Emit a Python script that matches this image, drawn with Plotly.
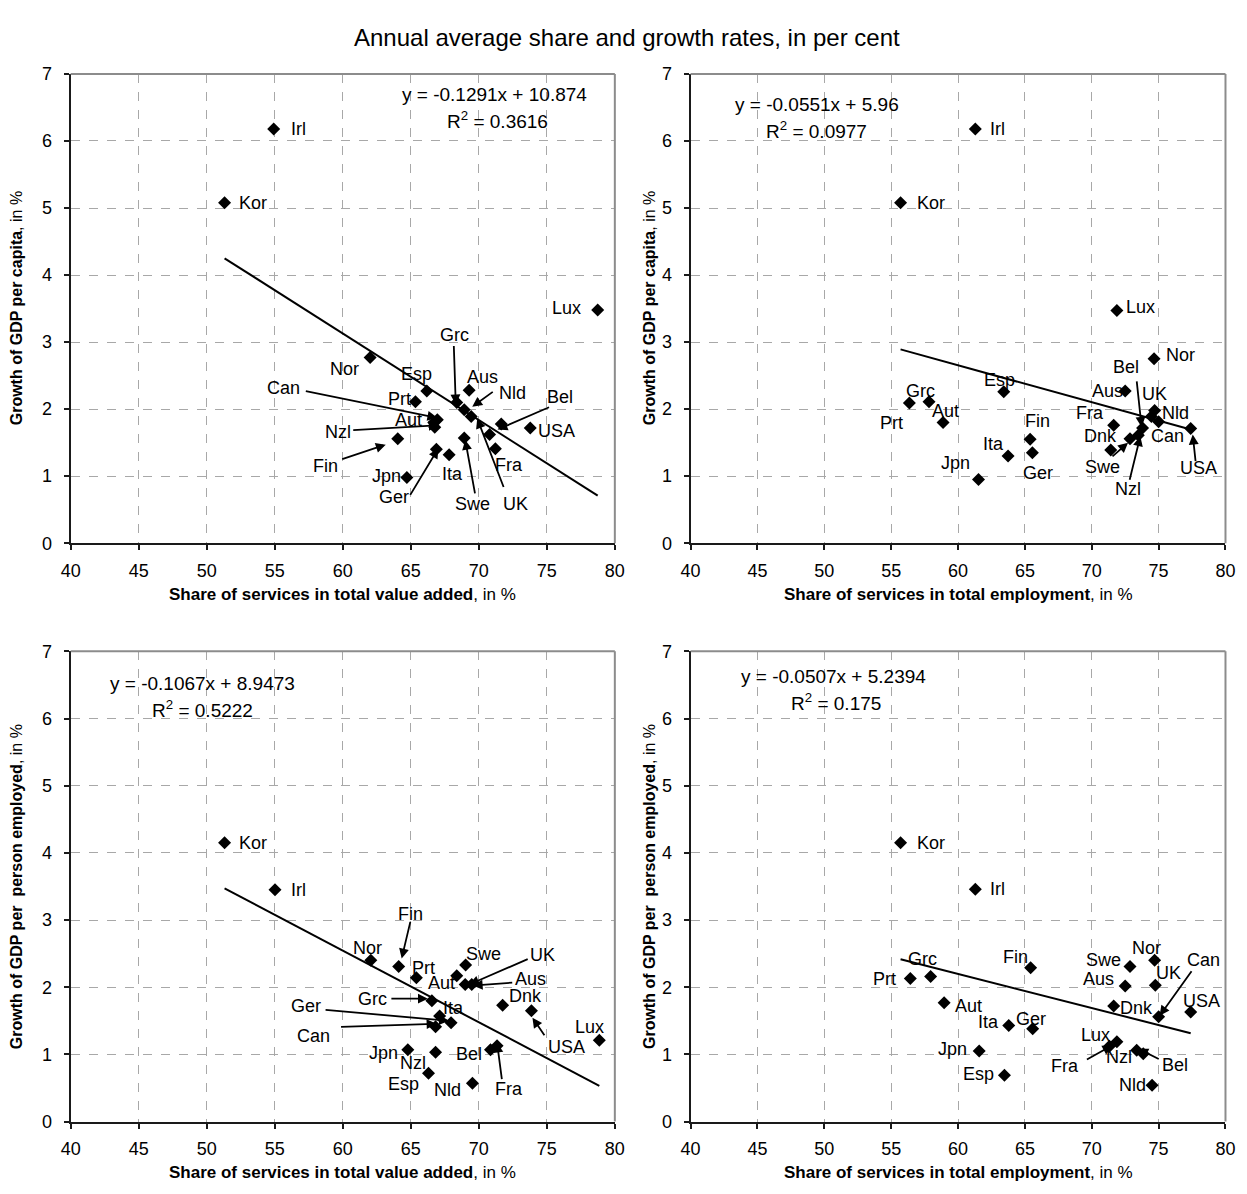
import plotly.graph_objects as go

FONT = "Liberation Sans, Arial, Helvetica, sans-serif"
W, H = 1247, 1194

# ---------------------------------------------------------------------------
# Panel 1: share of services in total value added vs growth of GDP per capita
va_pc_country = ["Irl", "Kor", "Lux", "Nor", "Esp", "Prt", "Aus", "Grc", "Nld", "UK", "Dnk",
                 "Bel", "USA", "Fra", "Can", "Aut", "Nzl", "Fin", "Jpn", "Ger", "Ita", "Swe"]
va_pc_share = [54.92, 51.31, 78.74, 62.01, 66.18, 65.34, 69.29, 68.38, 68.93, 69.44, 71.65,
               70.79, 73.78, 71.22, 66.95, 66.69, 66.76, 64.04, 64.71, 66.88, 67.82, 68.93]
va_pc_growth = [6.18, 5.08, 3.48, 2.77, 2.27, 2.11, 2.28, 2.10, 1.99, 1.89, 1.78,
                1.62, 1.72, 1.41, 1.84, 1.80, 1.73, 1.56, 0.98, 1.40, 1.32, 1.57]
va_pc_fit = (-0.1291, 10.874, 0.3616)

# Panel 2: share of services in total employment vs growth of GDP per capita
emp_pc_country = ["Irl", "Kor", "Lux", "Nor", "Esp", "Grc", "Prt", "Aut", "Aus", "Nld", "UK",
                  "Can", "Bel", "USA", "Fra", "Swe", "Dnk", "Nzl", "Fin", "Ger", "Ita", "Jpn"]
emp_pc_share = [61.29, 55.70, 71.88, 74.66, 63.42, 57.83, 56.36, 58.88, 72.50, 74.70, 74.46,
                75.00, 73.80, 77.40, 71.64, 72.86, 71.42, 73.48, 65.39, 65.56, 63.74, 61.53]
emp_pc_growth = [6.18, 5.08, 3.47, 2.75, 2.26, 2.11, 2.09, 1.80, 2.27, 1.98, 1.89,
                 1.81, 1.72, 1.71, 1.76, 1.56, 1.39, 1.61, 1.55, 1.35, 1.30, 0.95]
emp_pc_fit = (-0.0551, 5.96, 0.0977)

# Panel 3: share of services in total value added vs growth of GDP per person employed
va_pe_country = ["Irl", "Kor", "Nor", "Fin", "Prt", "Swe", "Aut", "UK", "Aus", "Dnk", "USA",
                 "Lux", "Grc", "Ita", "Ger", "Can", "Jpn", "Nzl", "Esp", "Nld", "Bel", "Fra"]
va_pe_share = [55.02, 51.31, 62.06, 64.11, 65.41, 69.03, 68.38, 69.00, 69.48, 71.75, 73.87,
               78.86, 66.55, 67.12, 67.96, 66.82, 64.78, 66.82, 66.30, 69.53, 70.86, 71.34]
va_pe_growth = [3.45, 4.15, 2.40, 2.31, 2.14, 2.33, 2.17, 2.04, 2.04, 1.73, 1.65,
                1.21, 1.80, 1.57, 1.47, 1.41, 1.07, 1.03, 0.72, 0.57, 1.07, 1.13]
va_pe_fit = (-0.1067, 8.9473, 0.5222)

# Panel 4: share of services in total employment vs growth of GDP per person employed
emp_pe_country = ["Kor", "Irl", "Grc", "Prt", "Fin", "Swe", "Nor", "Aus", "UK", "Aut", "Dnk",
                  "USA", "Can", "Ita", "Ger", "Lux", "Fra", "Nzl", "Bel", "Jpn", "Esp", "Nld"]
emp_pe_share = [55.70, 61.29, 57.95, 56.43, 65.43, 72.86, 74.70, 72.50, 74.75, 58.96, 71.64,
                77.40, 75.00, 63.79, 65.58, 71.88, 71.32, 73.36, 73.85, 61.58, 63.47, 74.51]
emp_pe_growth = [4.15, 3.46, 2.16, 2.13, 2.29, 2.31, 2.40, 2.02, 2.03, 1.77, 1.72,
                 1.63, 1.56, 1.43, 1.38, 1.19, 1.12, 1.06, 1.01, 1.05, 0.69, 0.54]
emp_pe_fit = (-0.0507, 5.2394, 0.175)

x_ticks = [40, 45, 50, 55, 60, 65, 70, 75, 80]
y_ticks = [0, 1, 2, 3, 4, 5, 6, 7]

# ---------------------------------------------------------------------------
# Label placement: pixel offsets (right, down) of each label from its marker
va_pc_labels = {"Irl": (25, 0), "Kor": (28, 0), "Lux": (-31, -2), "Nor": (-26, 11),
                "Esp": (-10, -17), "Prt": (-16, -3), "Aus": (13, -13), "Grc": (-2, -67),
                "Nld": (48, -17), "UK": (44, 87), "Bel": (70, -38), "USA": (26, 3),
                "Fra": (14, 16), "Can": (-154, -32), "Aut": (-25, -3), "Nzl": (-97, 5),
                "Fin": (-72, 27), "Jpn": (-20, -2), "Ger": (-42, 48), "Ita": (3, 19),
                "Swe": (8, 66)}
# Leader arrows: (tail dx, tail dy, head dx, head dy) in pixels from the marker
va_pc_arrows = {"Can": (-133, -29, 0, -2), "Grc": (-3, -58, -1, 2), "Nld": (30, -19, 8, -3),
                "Bel": (61, -28, 8, -5), "Nzl": (-83, 3, 4, -2), "Fin": (-57, 21, -12, 6),
                "Ger": (-27, 47, 2, -1), "Swe": (11, 57, 1, 2), "UK": (33, 72, 6, 2)}

emp_pc_labels = {"Irl": (22, 0), "Kor": (30, 0), "Lux": (24, -4), "Nor": (26, -4),
                 "Bel": (-17, -61), "Esp": (-4, -12), "Grc": (-9, -11), "Prt": (-18, 20),
                 "Aut": (2, -12), "Aus": (-18, 0), "UK": (3, -23), "Nld": (21, 3),
                 "Fra": (-24, -12), "Fin": (7, -18), "Dnk": (-10, -14), "Can": (9, 14),
                 "Ita": (-15, -12), "Swe": (-28, 28), "Jpn": (-23, -17), "Ger": (6, 20),
                 "Nzl": (-10, 54), "USA": (8, 39)}
emp_pc_arrows = {"Bel": (-6, -48, -1, -1), "Swe": (-19, 19, -2, 4),
                 "Nzl": (-9, 46, 2, 1), "USA": (5, 34, 2, 6)}

va_pe_labels = {"Irl": (23, 0), "Kor": (28, 0), "Fin": (12, -52), "Nor": (-3, -12),
                "Prt": (7, -10), "Swe": (18, -11), "UK": (77, -30), "Aus": (59, -6),
                "Aut": (-15, 7), "Dnk": (23, -9), "Grc": (-59, -2), "Ita": (14, -8),
                "Ger": (-145, -17), "Can": (-122, 9), "Lux": (-10, -13), "USA": (35, 36),
                "Jpn": (-24, 3), "Nzl": (-23, 11), "Bel": (-22, 4), "Esp": (-25, 11),
                "Nld": (-25, 7), "Fra": (12, 43)}
va_pe_arrows = {"Fin": (12, -46, 3, -8), "UK": (64, -26, 4, 0), "Aus": (42, -2, 1, 1),
                "Grc": (-42, -2, -4, -2), "Ger": (-127, -13, -2, -2), "Can": (-96, 0, 1, -3),
                "USA": (14, 26, 1, 7), "Fra": (5, 35, 0, -3)}

emp_pe_labels = {"Kor": (30, 0), "Irl": (22, 0), "Grc": (-8, -17), "Prt": (-26, 1),
                 "Fin": (-15, -11), "Swe": (-27, -6), "Nor": (-8, -12), "Can": (45, -57),
                 "Aus": (-27, -7), "UK": (13, -12), "USA": (11, -11), "Aut": (24, 3),
                 "Dnk": (23, 2), "Ita": (-20, -4), "Ger": (-2, -10), "Lux": (-21, -7),
                 "Fra": (-44, 20), "Nzl": (-18, 7), "Bel": (32, 11), "Jpn": (-27, -2),
                 "Esp": (-26, -1), "Nld": (-20, 0)}
emp_pe_arrows = {"Can": (34, -47, 1, -1), "Fra": (-24, 14, 3, -1), "Bel": (17, 6, -5, -5)}

# Equation text positions (data units of each panel)
eq_positions = [((71.13, 6.69), (71.34, 6.31)),
                ((49.44, 6.54), (49.44, 6.16)),
                ((49.72, 6.52), (49.72, 6.14)),
                ((50.69, 6.63), (50.91, 6.24))]

panels = [
    dict(country=va_pc_country, x=va_pc_share, y=va_pc_growth, fit=va_pc_fit,
         labels=va_pc_labels, arrows=va_pc_arrows),
    dict(country=emp_pc_country, x=emp_pc_share, y=emp_pc_growth, fit=emp_pc_fit,
         labels=emp_pc_labels, arrows=emp_pc_arrows),
    dict(country=va_pe_country, x=va_pe_share, y=va_pe_growth, fit=va_pe_fit,
         labels=va_pe_labels, arrows=va_pe_arrows),
    dict(country=emp_pe_country, x=emp_pe_share, y=emp_pe_growth, fit=emp_pe_fit,
         labels=emp_pe_labels, arrows=emp_pe_arrows),
]

x_titles = ["<b>Share of services in total value added</b>, in %",
            "<b>Share of services in total employment</b>, in %",
            "<b>Share of services in total value added</b>, in %",
            "<b>Share of services in total employment</b>, in %"]
y_titles = ["<b>Growth of GDP per capita</b>, in %",
            "<b>Growth of GDP per capita</b>, in %",
            "<b>Growth of GDP per&nbsp; person employed</b>, in %",
            "<b>Growth of GDP per&nbsp; person employed</b>, in %"]

# Plot-area geometry in pixels: (left, right) and (top, bottom)
cols = [(61.7, 614.7), (691.7, 1235.3)]
rows = [(65.0, 542.3), (652.3, 1130.5)]
# vertical titles: (x position, extra pixel nudge)
y_title_pos = [(17, -10), (650, 0)]

LABEL_SIZE = 18
fig = go.Figure()
annotations = []
shapes = []
layout_axes = {}

for i, p in enumerate(panels):
    n = "" if i == 0 else str(i + 1)
    xa, ya = "x" + n, "y" + n
    (left, right) = cols[i % 2]
    (top, bottom) = rows[i // 2]

    layout_axes["xaxis" + n] = dict(
        domain=[left / W, right / W], anchor=ya, range=[40, 80], tickvals=x_ticks,
        showgrid=True, gridcolor="#a8a8a8", griddash="dash", gridwidth=1,
        showline=True, linecolor="#1a1a1a", linewidth=2, zeroline=False,
        ticks="outside", ticklen=5, tickwidth=1.5, tickcolor="#1a1a1a",
        tickfont=dict(size=18, color="black", family=FONT), ticklabelstandoff=5,
        fixedrange=True)
    layout_axes["yaxis" + n] = dict(
        domain=[1 - bottom / H, 1 - top / H], anchor=xa, range=[0, 7], tickvals=y_ticks,
        showgrid=True, gridcolor="#a8a8a8", griddash="dash", gridwidth=1,
        showline=True, linecolor="#1a1a1a", linewidth=2, zeroline=False,
        ticks="outside", ticklen=5, tickwidth=1.5, tickcolor="#1a1a1a",
        tickfont=dict(size=18, color="black", family=FONT), ticklabelstandoff=8,
        fixedrange=True)

    # grey top and right frame edges
    shapes.append(dict(type="line", xref=xa + " domain", yref=ya + " domain",
                       x0=0, x1=1, y0=1, y1=1, line=dict(color="#8c8c8c", width=2)))
    shapes.append(dict(type="line", xref=xa + " domain", yref=ya + " domain",
                       x0=1, x1=1, y0=0, y1=1, line=dict(color="#8c8c8c", width=2)))

    fig.add_trace(go.Scatter(
        x=p["x"], y=p["y"], text=p["country"], mode="markers", xaxis=xa, yaxis=ya,
        marker=dict(symbol="diamond", size=10, color="black"),
        hovertemplate="%{text}: %{x}, %{y}<extra></extra>", showlegend=False))

    slope, intercept, r2 = p["fit"]
    x0, x1 = min(p["x"]), max(p["x"])
    fig.add_trace(go.Scatter(
        x=[x0, x1], y=[slope * x0 + intercept, slope * x1 + intercept], mode="lines",
        xaxis=xa, yaxis=ya, line=dict(color="black", width=2),
        hoverinfo="skip", showlegend=False))

    for c, (dx, dy) in p["labels"].items():
        k = p["country"].index(c)
        annotations.append(dict(
            x=p["x"][k], y=p["y"][k], xref=xa, yref=ya, text=c, showarrow=False,
            xshift=dx, yshift=-dy, xanchor="center", yanchor="middle",
            font=dict(size=LABEL_SIZE, color="black", family=FONT)))

    for c, (tdx, tdy, hdx, hdy) in p["arrows"].items():
        k = p["country"].index(c)
        annotations.append(dict(
            x=p["x"][k], y=p["y"][k], xref=xa, yref=ya, text="", showarrow=True,
            xshift=hdx, yshift=-hdy, ax=tdx - hdx, ay=tdy - hdy,
            arrowhead=2, arrowsize=1.1, arrowwidth=1.8, arrowcolor="black"))

    (ex, ey), (rx, ry) = eq_positions[i]
    sign = "+" if intercept >= 0 else "-"
    annotations.append(dict(
        x=ex, y=ey, xref=xa, yref=ya, showarrow=False, xanchor="center", yanchor="middle",
        text=f"y = {slope:g}x {sign} {abs(intercept):g}",
        font=dict(size=19, color="black", family=FONT)))
    annotations.append(dict(
        x=rx, y=ry, xref=xa, yref=ya, showarrow=False, xanchor="center", yanchor="middle",
        text=f"R<sup>2</sup> = {r2:g}", font=dict(size=19, color="black", family=FONT)))

    # axis titles
    annotations.append(dict(
        x=(left + right) / 2 / W, y=1 - (bottom + 52) / H, xref="paper", yref="paper",
        showarrow=False, xanchor="center", yanchor="middle", text=x_titles[i],
        font=dict(size=17, color="black", family=FONT)))
    ytx, ynudge = y_title_pos[i % 2]
    annotations.append(dict(
        x=ytx / W, y=1 - (top + bottom) / 2 / H, xref="paper", yref="paper", xshift=ynudge,
        showarrow=False, xanchor="center", yanchor="middle", textangle=-90, text=y_titles[i],
        font=dict(size=16, color="black", family=FONT)))

annotations.append(dict(
    x=627 / W, y=1 - 28 / H, xref="paper", yref="paper", showarrow=False,
    xanchor="center", yanchor="middle", text="Annual average share and growth rates, in per cent",
    font=dict(size=24, color="black", family=FONT)))

fig.update_layout(
    width=W, height=H, autosize=False,
    margin=dict(l=0, r=0, t=0, b=0),
    paper_bgcolor="white", plot_bgcolor="white",
    font=dict(family=FONT, color="black"),
    annotations=annotations, shapes=shapes, showlegend=False,
    **layout_axes)

fig.write_html("out.html")
